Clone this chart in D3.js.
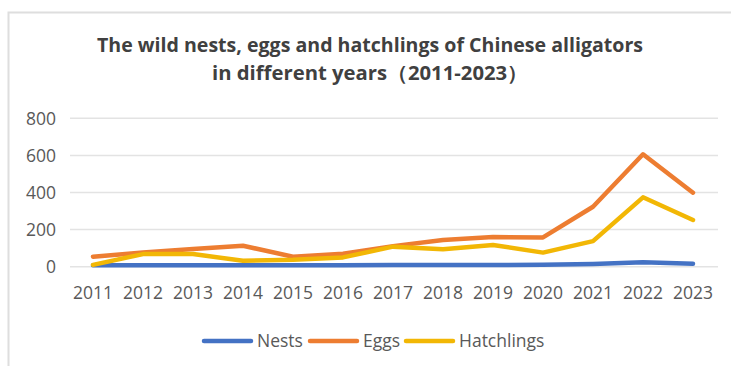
<!DOCTYPE html>
<html><head><meta charset="utf-8">
<script src="https://cdn.jsdelivr.net/npm/d3@7"></script>
<style>
html,body{margin:0;padding:0;background:#fff;}
svg{display:block;}
</style></head>
<body><svg id="chart" width="731" height="366"></svg>
<script>
const years = ["2011","2012","2013","2014","2015","2016","2017","2018","2019","2020","2021","2022","2023"];
const nests = [8, 8, 8, 8, 8, 8, 9, 9, 9, 10, 15, 24, 16];
const eggs = [54, 77, 95, 113, 54, 70, 111, 144, 160, 158, 323, 606, 399];
const hatchlings = [10, 68, 68, 32, 38, 50, 108, 94, 117, 76, 138, 374, 252];
const yTicks = [0, 200, 400, 600, 800];
const seriesNames = ["Nests", "Eggs", "Hatchlings"];
const seriesColors = ["#4472C4", "#ED7D31", "#F2B705"];
const titleLines = ["The wild nests, eggs and hatchlings of Chinese alligators", "in different years\uFF082011-2023\uFF09"];

const seriesData = [nests, eggs, hatchlings];
const svg = d3.select("#chart");
const font = "'Open Sans', 'Noto Sans', sans-serif";
const textColor = "#595959";

// frame
svg.append("path").attr("d", "M8.5,366 V12.5 H731").attr("fill", "none").attr("stroke", "#dedede").attr("stroke-width", 2);

// title
const titleSizes = [546, 316];
svg.selectAll("text.title").data(titleLines).join("text")
  .attr("class", "title")
  .attr("x", 370).attr("y", (d, i) => 52 + i * 28)
  .attr("text-anchor", "middle")
  .attr("font-family", font).attr("font-weight", "bold").attr("font-size", 19.5)
  .attr("fill", "#404040")
  .attr("textLength", (d, i) => titleSizes[i]).attr("lengthAdjust", "spacingAndGlyphs")
  .text(d => d);

const x = d3.scaleBand().domain(years).range([68, 718]);
const y = d3.scaleLinear().domain([0, 800]).range([266.7, 118.3]);

// grid
svg.append("g").selectAll("line").data(yTicks).join("line")
  .attr("x1", 70).attr("x2", 718)
  .attr("y1", d => y(d)).attr("y2", d => y(d))
  .attr("stroke", "#e3e3e3").attr("stroke-width", 1.5);

// y axis labels
const yAxis = d3.axisLeft(y).tickValues(yTicks).tickSize(0).tickPadding(0);
const gy = svg.append("g").attr("transform", "translate(56,0)").call(yAxis);
gy.select(".domain").remove();
gy.selectAll("text").attr("font-family", font).attr("font-size", 17.5).attr("fill", textColor).attr("dy", "0.35em");

// x axis labels
const xAxis = d3.axisBottom(x).tickSize(0).tickPadding(0);
const gx = svg.append("g").attr("transform", "translate(0,293)").call(xAxis);
gx.select(".domain").remove();
gx.selectAll("text").attr("font-family", font).attr("font-size", 17.5).attr("fill", textColor).attr("dy", "0.35em");

// lines
const line = d3.line().x((d, i) => x(years[i]) + x.bandwidth() / 2).y(d => y(d));
svg.append("g").selectAll("path").data(seriesData).join("path")
  .attr("d", d => line(d))
  .attr("fill", "none")
  .attr("stroke", (d, i) => seriesColors[i])
  .attr("stroke-width", 4.5)
  .attr("stroke-linejoin", "round")
  .attr("stroke-linecap", "round");

// legend
const legendX = [204, 310, 406];
const lg = svg.append("g").selectAll("g").data(seriesNames).join("g")
  .attr("transform", (d, i) => `translate(${legendX[i]},341)`);
lg.append("line").attr("x1", 0).attr("x2", 47).attr("y1", 0).attr("y2", 0)
  .attr("stroke", (d, i) => seriesColors[i]).attr("stroke-width", 4.5).attr("stroke-linecap", "round");
lg.append("text").attr("x", 53).attr("y", 0).attr("dy", "0.35em")
  .attr("font-family", font).attr("font-size", 17.5).attr("fill", textColor)
  .text(d => d);
</script></body></html>
